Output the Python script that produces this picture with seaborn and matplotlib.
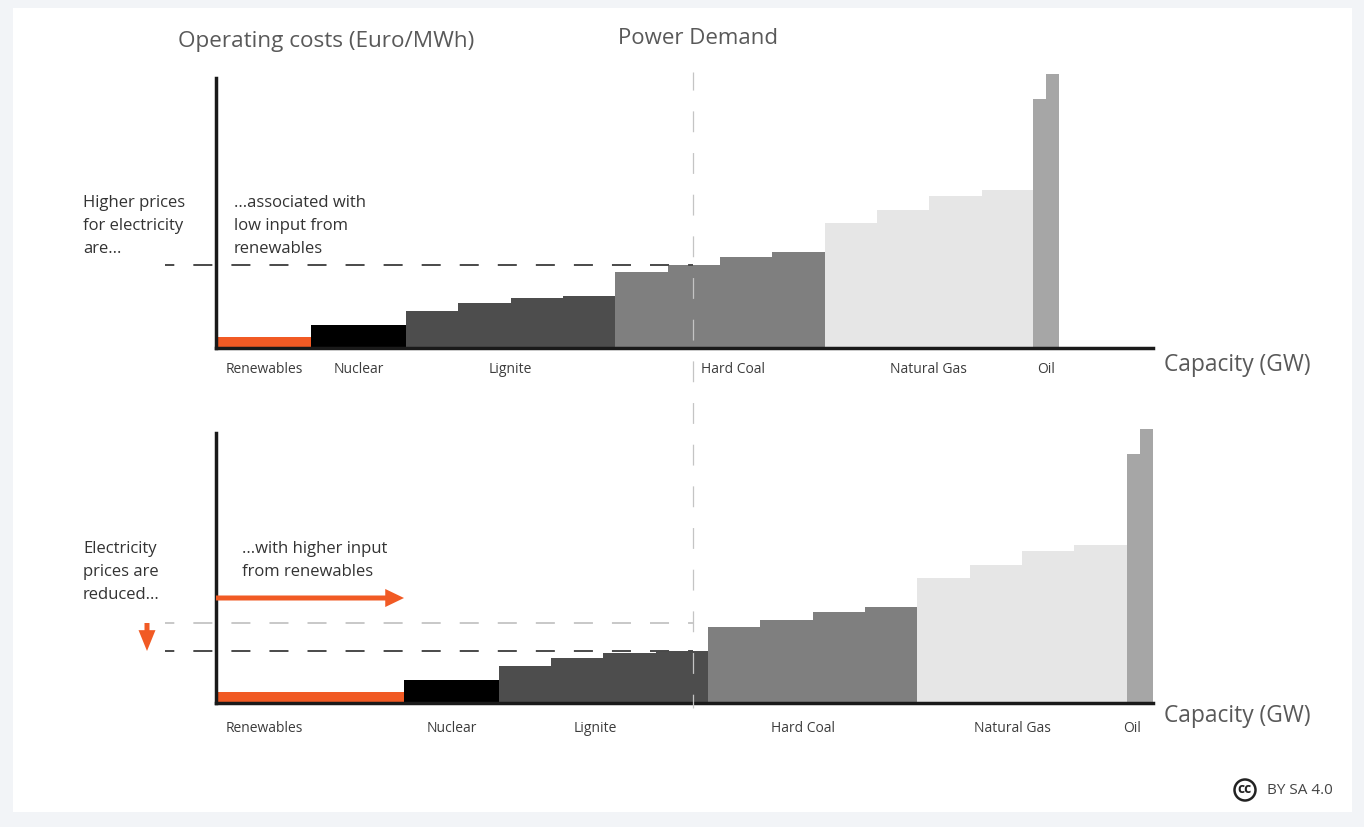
import matplotlib
matplotlib.use('Agg')
import matplotlib.pyplot as plt
from matplotlib.patches import Circle, Rectangle
import numpy as np
import pandas as pd
import seaborn as sns

# Merit order blocks
fuels = ['Renewables', 'Nuclear',
         'Lignite', 'Lignite', 'Lignite', 'Lignite',
         'Hard Coal', 'Hard Coal', 'Hard Coal', 'Hard Coal',
         'Natural Gas', 'Natural Gas', 'Natural Gas', 'Natural Gas',
         'Oil', 'Oil']
costs = [4, 8.4, 13.5, 16.4, 18.2, 19, 27.7, 30.3, 33.2, 35, 45.6, 50.4, 55.5, 57.7, 91, 100]
capacity_low = [18.2, 18.1, 10, 10, 10, 10, 10, 10, 10, 10, 10, 10, 10, 9.7, 2.5, 2.5]
capacity_high = [36, 18, 10, 10, 10, 10, 10, 10, 10, 10, 10, 10, 10, 10, 2.5, 2.5]

fuel_names = ['Renewables', 'Nuclear', 'Lignite', 'Hard Coal', 'Natural Gas', 'Oil']
fuel_colors = ['#f15a24', '#000000', '#4d4d4d', '#7f7f7f', '#e6e6e6', '#a6a6a6']
label_pos_low = [9.2, 27.3, 56.2, 98.7, 136.1, 158.5]
label_pos_high = [9.2, 45, 72.5, 112.2, 152.1, 175]

W, H = 1364, 827
ORANGE = '#f15a24'

sns.set_theme(style='white')
plt.rcParams['font.family'] = ['Open Sans', 'DejaVu Sans']
plt.rcParams['lines.scale_dashes'] = False

fig = plt.figure(figsize=(W / 100, H / 100), dpi=100, facecolor='#f2f4f7')
fig.add_artist(Rectangle((13 / W, 1 - 812 / H), 1339 / W, 804 / H,
                         transform=fig.transFigure, facecolor='white', edgecolor='none', zorder=-5))


def add_panel(top, bottom, capacity, label_pos, pad):
    ax = fig.add_axes([216 / W, 1 - bottom / H, 937 / W, (bottom - top) / H], facecolor='none')
    edges = np.concatenate([[0], np.cumsum(capacity)])
    df = pd.DataFrame({
        'fuel': fuels,
        'cost': costs,
        'mid': (edges[:-1] + edges[1:]) / 2,
    })
    sns.histplot(data=df, x='mid', weights='cost', bins=edges.tolist(), hue='fuel',
                 hue_order=fuel_names, palette=dict(zip(fuel_names, fuel_colors)),
                 multiple='layer', alpha=1, linewidth=0, legend=False, ax=ax)
    ax.set_xlim(0, 179)
    ax.set_ylim(0, 100)
    ax.set_xlabel('')
    ax.set_ylabel('')
    ax.set_yticks([])
    ax.set_xticks(label_pos, fuel_names)
    ax.tick_params(axis='x', length=0, pad=pad, labelsize=10, labelcolor='#3c3c3c')
    for side in ['top', 'right']:
        ax.spines[side].set_visible(False)
    for side in ['left', 'bottom']:
        ax.spines[side].set_linewidth(2.5)
        ax.spines[side].set_color('#1a1a1a')
    ax.spines['left'].set_bounds(0, 98.5)
    return ax


add_panel(74, 348, capacity_low, label_pos_low, 10.4)
add_panel(429, 703, capacity_high, label_pos_high, 12.6)

# Overlay in picture pixels for the annotations
over = fig.add_axes([0, 0, 1, 1], facecolor='none')
over.set_xlim(0, W)
over.set_ylim(H, 0)
over.axis('off')

# power demand line
over.plot([693, 693], [72, 708], color='#c4c4c4', lw=0.9, linestyle=(2, (15, 15)))

# price levels
dash = (7, (13.7, 13.7))
over.plot([165, 693], [265, 265], color='#4a4a4a', lw=1.4, linestyle=dash)
over.plot([165, 693], [623, 623], color='#c8c8c8', lw=1.4, linestyle=dash)
over.plot([165, 693], [651, 651], color='#4a4a4a', lw=1.4, linestyle=dash)

# arrows
over.annotate('', xy=(404, 598), xytext=(216, 598),
              arrowprops=dict(width=3.6, headwidth=13, headlength=13.5, color=ORANGE, shrink=0, lw=0))
over.annotate('', xy=(147, 651), xytext=(147, 623),
              arrowprops=dict(width=3.6, headwidth=12.2, headlength=15, color=ORANGE, shrink=0, lw=0))

# headings
over.text(178, 41, 'Operating costs (Euro/MWh)', fontsize=16.2, color='#595959', va='center')
over.text(618, 38, 'Power Demand', fontsize=16, color='#595959', va='center')
over.text(1164, 365, 'Capacity (GW)', fontsize=16.4, color='#595959', va='center')
over.text(1164, 716, 'Capacity (GW)', fontsize=16.4, color='#595959', va='center')

# explanations
for x, y, s in [(83, 203, 'Higher prices'), (83, 226, 'for electricity'), (83, 249, 'are...'),
                (234, 203, '...associated with'), (234, 226, 'low input from'), (234, 249, 'renewables'),
                (83, 549, 'Electricity'), (83, 572, 'prices are'), (83, 595, 'reduced...'),
                (242, 549, '...with higher input'), (242, 572, 'from renewables')]:
    over.text(x, y, s, fontsize=12, color='#333333', va='center')

# licence mark
over.add_patch(Circle((1245, 790), 10.5, facecolor='white', edgecolor='#222222', lw=1.8))
over.text(1245, 789, 'cc', fontsize=10, fontweight='bold', color='#222222', ha='center', va='center')
over.text(1267, 791, 'BY SA 4.0', fontsize=11, color='#444444', va='center')

fig.savefig('out.png', dpi=100, facecolor=fig.get_facecolor())
plt.close(fig)
